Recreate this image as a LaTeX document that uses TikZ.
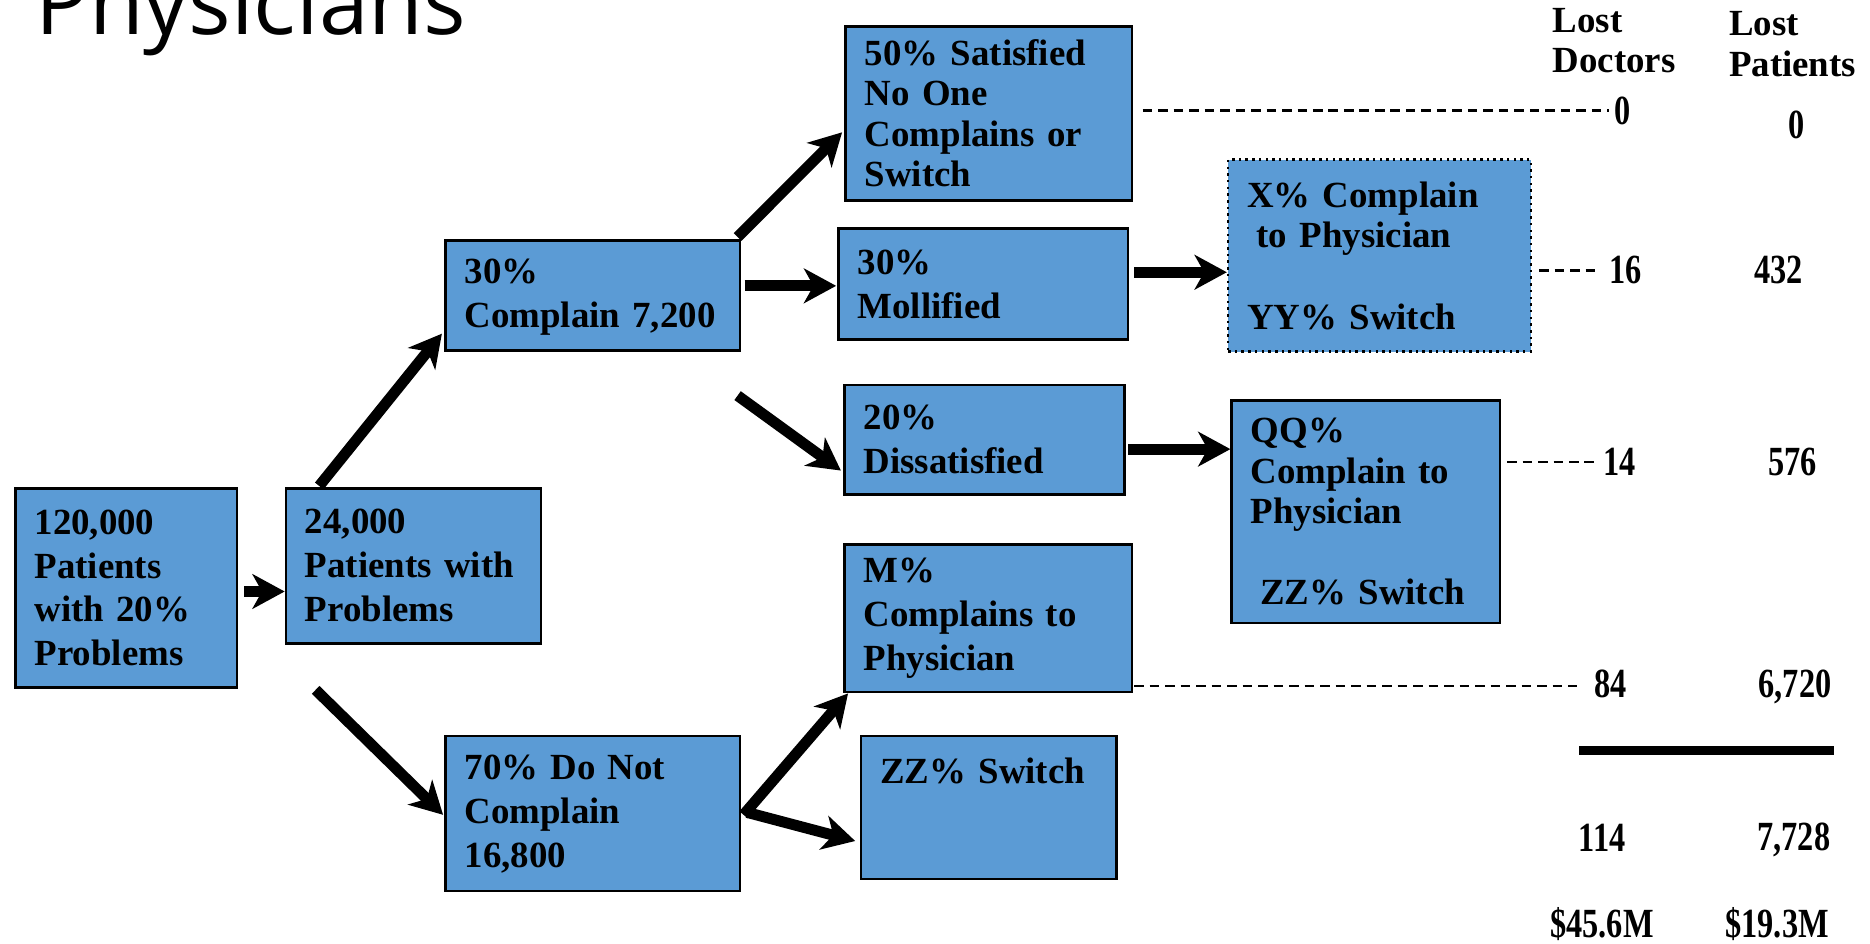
\documentclass[tikz,border=0pt]{standalone}
\usepackage{fontspec}
\setmainfont{Liberation Serif}
\newfontfamily\titlefont{Open Sans}
\newfontfamily\numfont[FakeStretch=0.78]{Liberation Serif}
\usetikzlibrary{arrows.meta,calc}
\definecolor{boxblue}{RGB}{91,155,213}
\tikzset{
  box/.style={draw=black, line width=0.6pt, fill=boxblue, anchor=north west, align=left,
    inner xsep=0.16cm, inner ysep=0pt, font=\fontsize{8.8}{10.5}\selectfont\bfseries},
  tight/.style={font=\fontsize{8.8}{9.7}\selectfont\bfseries},
  arr/.style={line width=2.6pt, -{Stealth[length=0.27cm,width=0.29cm,inset=0.08cm]}},
  dline/.style={line width=0.6pt, dash pattern=on 0.08cm off 0.05cm},
  num/.style={font=\fontsize{9.9}{11}\numfont\bfseries, inner sep=1pt},
  head/.style={font=\fontsize{8.8}{9.7}\selectfont\bfseries, align=left, inner sep=0pt, anchor=west},
}
\begin{document}
\begin{tikzpicture}[x=0.01cm,y=-0.01cm]
\useasboundingbox (0,0) rectangle (1570,792);
% title (cut at the top edge)
\node[anchor=base west, inner sep=0, font=\fontsize{21.3}{24}\titlefont] (title) at (29,29) {Physicians};

% boxes
\node[box, minimum width=1.86cm, minimum height=1.67cm, text width=1.54cm] (A) at (12,409)
  {120,000\\Patients\\with 20\%\\Problems};
\node[box, minimum width=2.14cm, minimum height=1.30cm, text width=1.82cm] (B) at (239,409)
  {24,000\\\mbox{Patients with}\\Problems};
\node[box, minimum width=2.47cm, minimum height=0.92cm, text width=2.15cm,
  text height=0.36cm, text depth=0.56cm] (C) at (373,201)
  {30\%\\\mbox{Complain 7,200}};
\node[box, minimum width=2.47cm, minimum height=1.30cm, text width=2.15cm] (D) at (373,617)
  {70\% Do Not\\Complain\\16,800};
\node[box, tight, minimum width=2.40cm, minimum height=1.46cm, text width=2.08cm] (E) at (709,21)
  {\mbox{50\% Satisfied}\\No One\\\mbox{Complains or}\\Switch};
\node[box, minimum width=2.43cm, minimum height=0.93cm, text width=2.11cm] (F) at (703,191)
  {30\%\\Mollified};
\node[box, minimum width=2.35cm, minimum height=0.92cm, text width=2.03cm] (G) at (708,322)
  {20\%\\Dissatisfied};
\node[box, minimum width=2.41cm, minimum height=1.24cm, text width=2.09cm] (H) at (708,456)
  {M\%\\\mbox{Complains to}\\Physician};
\node[box, minimum width=2.14cm, minimum height=1.20cm, text width=1.82cm,
  text height=0.4cm, text depth=0.8cm] (I) at (722,617)
  {\mbox{ZZ\% Switch}};
\node[box, tight, densely dotted, minimum width=2.54cm, minimum height=1.61cm, text width=2.22cm] (J) at (1030,133)
  {\mbox{X\% Complain}\\\hspace*{0.08cm}to Physician\\[9.7pt]\mbox{YY\% Switch}};
\node[box, tight, minimum width=2.25cm, minimum height=1.87cm, text width=1.93cm] (K) at (1033,335)
  {QQ\%\\\mbox{Complain to}\\Physician\\[9.7pt]\hspace*{0.08cm}\mbox{ZZ\% Switch}};

% arrows
\draw[arr] ($(A.east)+(5,3)$) -- ($(A.east -| B.west)+(0,3)$);
\draw[arr] ($(B.north west)+(29,-1)$) -- ($(C.south west)+(-2,-15)$);
\draw[arr] ($(B.south west)+(26,38)$) -- ($(D.west)+(-1,1)$);
\draw[arr] ($(C.north east)+(-3,-2)$) -- ($(E.west)+(-2,16)$);
\draw[arr] ($(C.north east)+(3,39)$) -- ($(C.north east -| F.west)+(-1,39)$);
\draw[arr] ($(C.south east)+(-3,37)$) -- ($(G.west)+(-2,26)$);
\draw[arr] ($(D.east)+(2,1)$) -- ($(H.south west)+(4,0)$);
\draw[arr] ($(D.east)+(5,-1)$) -- ($(I.west)+(-4,28)$);
\draw[arr] ($(F.east)+(4,-10)$) -- ($(F.east -| J.west)+(0,-10)$);
\draw[arr] ($(G.east)+(2,8)$) -- ($(G.east -| K.west)+(0,8)$);

% headers
\node[head] (hd) at (1303,34) {Lost\\Doctors};
\node[head] (hp) at (1451,37) {Lost\\Patients};

% numbers
\node[num] (d0) at (1362,93) {0};
\node[num] (p0) at (1508,105) {0};
\node[num] (d16) at (1365,227) {16};
\node[num] (p432) at (1493,227) {432};
\node[num] (d14) at (1360,388) {14};
\node[num] (p576) at (1505,388) {576};
\node[num] (d84) at (1352,574) {84};
\node[num] (p6720) at (1507,577) {6,720};
\node[num] (d114) at (1345,703) {114};
\node[num] (p7728) at (1506,705) {7,728};
\node[num] (dM) at (1345,776) {\$45.6M};
\node[num] (pM) at (1492,776) {\$19.3M};

% dashed leaders
\draw[dline] ($(d0.west -| E.east)+(8,0)$) -- (d0.west);
\draw[dline] ($(d16.west -| J.east)+(6,0)$) -- ($(d16.west)+(-8,0)$);
\draw[dline] ($(d14.west -| K.east)+(5,0)$) -- (d14.west);
\draw[dline] ($(d84.west -| H.east)+(1,2)$) -- ($(d84.west)+(-10,2)$);

% total rule
\coordinate (sumL) at (1326,630);
\coordinate (sumR) at (1540,630);
\draw[line width=0.08cm] (sumL) -- (sumR);
\end{tikzpicture}
\end{document}
